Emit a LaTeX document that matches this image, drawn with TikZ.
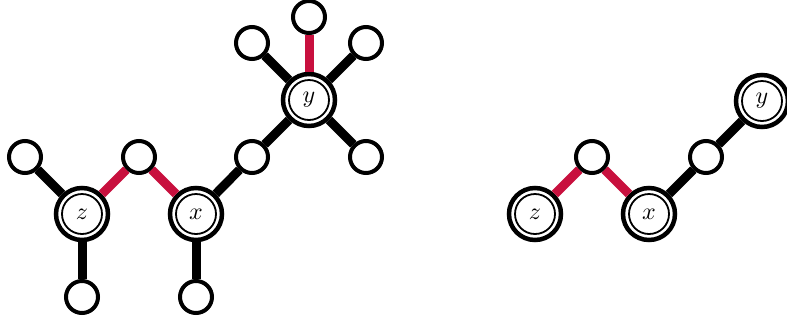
\documentclass[tikz,border=0pt]{standalone}
\usepackage{graphicx}
\usepackage{tikz}
\definecolor{crim}{RGB}{200,16,62}
\newcommand{\lbl}[1]{\scalebox{2.4}{$#1$}}
\tikzset{
  ring/.style={circle, draw=black, line width=4.5pt, fill=white, minimum size=52pt, inner sep=0pt},
  core/.style={circle, draw=black, line width=1.8pt, fill=white, minimum size=40pt, inner sep=0pt},
  leaf/.style={circle, draw=black, line width=4pt, fill=white, minimum size=32pt, inner sep=0pt},
  edge/.style={line width=9pt, black},
  redge/.style={line width=9pt, crim}
}
\begin{document}
\begin{tikzpicture}[x=1pt,y=-1pt]
\useasboundingbox (0,0) rectangle (787,325);
% left graph
\node[ring] (z) at (82,214) {};
\node[core] (zc) at (z) {\lbl{z}};
\node[ring] (x) at (196,214) {};
\node[core] (xc) at (x) {\lbl{x}};
\node[ring] (y) at (309,100) {};
\node[core] (yc) at (y) {\lbl{y}};
\node[leaf] (l1) at (25,157) {};
\node[leaf] (l2) at (82,297) {};
\node[leaf] (l3) at (139,157) {};
\node[leaf] (l4) at (196,297) {};
\node[leaf] (l5) at (252,157) {};
\node[leaf] (l6) at (252,43) {};
\node[leaf] (l7) at (309,17) {};
\node[leaf] (l8) at (366,43) {};
\node[leaf] (l9) at (366,157) {};
\draw[edge] (z) -- (l1);
\draw[edge] (z) -- (l2);
\draw[redge] (z) -- (l3);
\draw[redge] (l3) -- (x);
\draw[edge] (x) -- (l4);
\draw[edge] (x) -- (l5);
\draw[edge] (l5) -- (y);
\draw[edge] (y) -- (l6);
\draw[redge] (y) -- (l7);
\draw[edge] (y) -- (l8);
\draw[edge] (y) -- (l9);
% right graph
\node[ring] (rz) at (535,214) {};
\node[core] (rzc) at (rz) {\lbl{z}};
\node[ring] (rx) at (649,214) {};
\node[core] (rxc) at (rx) {\lbl{x}};
\node[ring] (ry) at (762,101) {};
\node[core] (ryc) at (ry) {\lbl{y}};
\node[leaf] (r1) at (592,157) {};
\node[leaf] (r2) at (706,157) {};
\draw[redge] (rz) -- (r1);
\draw[redge] (r1) -- (rx);
\draw[edge] (rx) -- (r2);
\draw[edge] (r2) -- (ry);
\end{tikzpicture}
\end{document}
